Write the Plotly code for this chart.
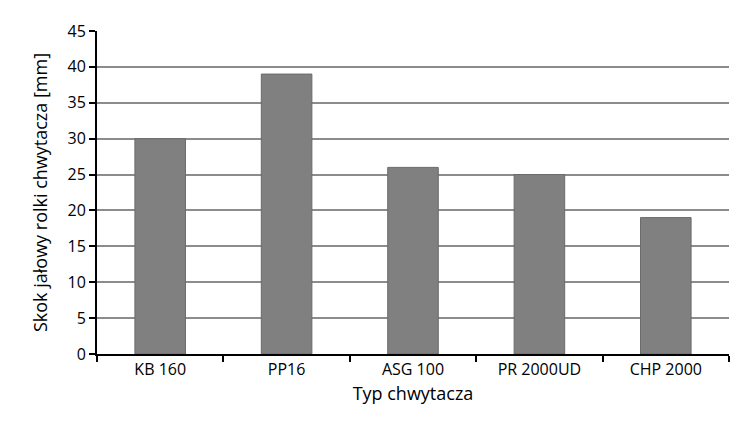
import plotly.graph_objects as go

categories = ["KB 160", "PP16", "ASG 100", "PR 2000UD", "CHP 2000"]
values = [30, 39, 26, 25, 19]
y_ticks = [0, 5, 10, 15, 20, 25, 30, 35, 40, 45]

fig = go.Figure(go.Bar(
    x=categories, y=values, width=0.4,
    marker=dict(color="#808080", line=dict(color="#6a6a6a", width=1)),
))
fig.update_layout(
    width=749, height=433, plot_bgcolor="white", paper_bgcolor="white",
    margin=dict(l=89, r=28, t=15, b=87), showlegend=False,
    font=dict(family="Open Sans, Liberation Sans", size=15, color="black"),
)
fig.update_xaxes(
    title_text="Typ chwytacza", title_standoff=8, tickfont=dict(size=16),
    showline=True, linecolor="black", linewidth=2,
    ticks="outside", ticklen=6, tickcolor="black", tickwidth=2,
    tickson="boundaries", showgrid=False,
)
fig.update_yaxes(
    title_text="Skok jałowy rolki chwytacza [mm]", range=[0, 45], tickfont=dict(size=16),
    tickvals=y_ticks, showline=True, linecolor="black", linewidth=2,
    ticks="outside", ticklen=6, tickcolor="black", tickwidth=2,
    showgrid=True, gridcolor="#8c8c8c", gridwidth=1.5, zeroline=False,
)
fig.write_html("out.html")
